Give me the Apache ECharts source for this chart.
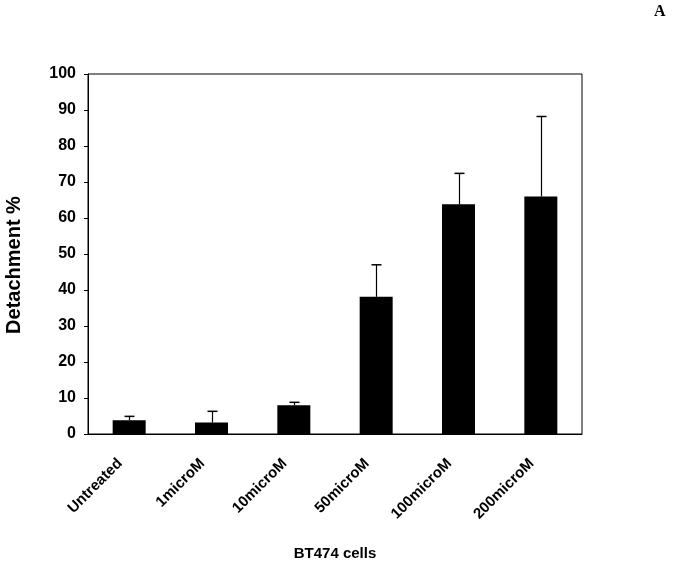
<!DOCTYPE html>
<html>
<head>
<meta charset="utf-8">
<script src="https://cdn.jsdelivr.net/npm/echarts@6/dist/echarts.min.js"></script>
<style>
  html, body { margin: 0; padding: 0; background: #fff; }
  #chart { width: 675px; height: 567px; }
</style>
</head>
<body>
<div id="chart"></div>
<script>
const categories = ['Untreated', '1microM', '10microM', '50microM', '100microM', '200microM'];
const means = [3.8, 3.2, 8.0, 38.1, 63.8, 66.0];
const errorTops = [4.9, 6.3, 8.8, 47.0, 72.4, 88.2];

const font = 'Liberation Sans, Arial, sans-serif';

let chart = echarts.init(document.getElementById('chart'));

chart.setOption({
  animation: false,
  backgroundColor: '#fff',
  graphic: [{
    type : 'text',
    left : 654,
    top  : 4,
    style: {
      text: 'A',
      font: 'bold 16px "Liberation Serif", "Times New Roman", serif',
      fill: '#000'
    }
  }],
  grid: {
    left           : 88,
    right          : 93,
    top            : 74,
    bottom         : 133,
    containLabel   : false,
    outerBoundsMode: 'none',
    show           : true,
    borderColor    : '#000',
    borderWidth    : 1
  },
  xAxis: {
    type         : 'category',
    data         : categories,
    name         : 'BT474 cells',
    nameLocation : 'middle',
    nameGap      : 112,
    nameTextStyle: { fontFamily: font, fontWeight: 'bold', fontSize: 15, color: '#000' },
    axisLine     : { lineStyle: { color: '#000', width: 1 } },
    axisTick     : { show: false },
    axisLabel    : {
      rotate    : 45,
      interval  : 0,
      margin    : 18,
      padding   : [0, 13, 0, 0],
      fontFamily: font,
      fontWeight: 'bold',
      fontSize  : 15,
      color     : '#000'
    }
  },
  yAxis: {
    type         : 'value',
    min          : 0,
    max          : 100,
    interval     : 10,
    name         : 'Detachment %',
    nameLocation : 'middle',
    nameGap      : 64,
    nameTextStyle: { fontFamily: font, fontWeight: 'bold', fontSize: 20, color: '#000', padding: [0, 22, 0, 0] },
    axisLine     : { show: true, lineStyle: { color: '#000', width: 1 } },
    axisTick     : { show: true, inside: false, length: 4, lineStyle: { color: '#000' } },
    splitLine    : { show: false },
    axisLabel    : {
      margin    : 12,
      fontFamily: font,
      fontWeight: 'bold',
      fontSize  : 16,
      color     : '#000'
    }
  },
  series: [
    {
      type     : 'bar',
      data     : means,
      barWidth : 33,
      itemStyle: { color: '#000' }
    },
    {
      type      : 'custom',
      data      : categories.map((c, i) => [i, means[i], errorTops[i]]),
      z         : 1,
      renderItem: (params, api) => {
        let base = api.coord([api.value(0), api.value(1)]);
        let top  = api.coord([api.value(0), api.value(2)]);
        let x    = Math.round(base[0]) + 0.5;
        let half = 5;
        return {
          type    : 'group',
          children: [
            { type: 'line', shape: { x1: x, y1: base[1], x2: x, y2: top[1] }, style: { stroke: '#000', lineWidth: 1.2 } },
            { type: 'line', shape: { x1: x - half, y1: top[1], x2: x + half, y2: top[1] }, style: { stroke: '#000', lineWidth: 1.5 } }
          ]
        };
      }
    }
  ]
});
</script>
</body>
</html>
